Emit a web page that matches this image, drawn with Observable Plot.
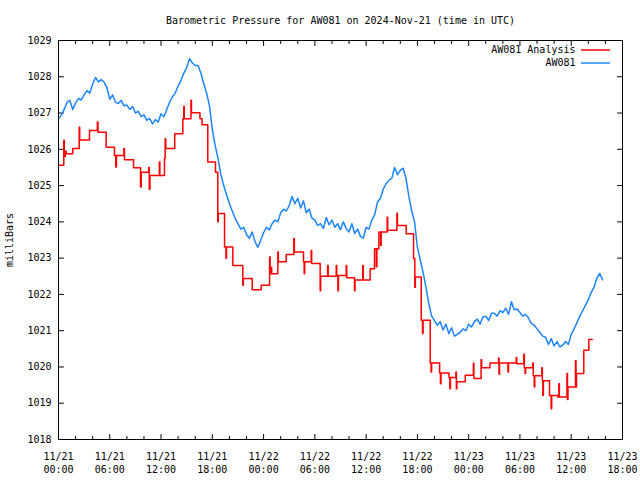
<!DOCTYPE html>
<html><head><meta charset="utf-8">
<script src="https://cdn.jsdelivr.net/npm/d3@7"></script>
<script src="https://cdn.jsdelivr.net/npm/@observablehq/plot@0.6"></script>
<style>body{margin:0;background:#fff}</style>
</head><body><div id="chart"></div>
<script>
const title = "Barometric Pressure for AW081 on 2024-Nov-21 (time in UTC)";
const yLabel = "milliBars";
const seriesNames = ["AW081 Analysis", "AW081"];
const seriesColors = ["#ff0000", "#1a85ff"];
const startUTC = Date.UTC(2024, 10, 21);
const endHours = 66;
const yTicks = [1018, 1019, 1020, 1021, 1022, 1023, 1024, 1025, 1026, 1027, 1028, 1029];
const xLabelHours = [0, 6, 12, 18, 24, 30, 36, 42, 48, 54, 60, 66];
const xMinorHours = [2,4,8,10,14,16,20,22,26,28,32,34,38,40,44,46,50,52,56,58,62,64];

// AW081 observations, one value every 20 minutes from 11/21 00:00 UTC
const awStepMinutes = 20;
const awValues = [
  1026.84, 1026.95, 1027.10,  1027.30, 1027.35, 1027.10,  1027.28, 1027.40, 1027.36,
  1027.50, 1027.62, 1027.55,  1027.80, 1027.98, 1027.86,  1027.92, 1027.85, 1027.70,
  1027.38, 1027.50, 1027.30,  1027.26, 1027.35, 1027.20,  1027.22, 1027.10, 1027.18,
  1027.00, 1027.05, 1026.90,  1026.95, 1026.80, 1026.85,  1026.70, 1026.82, 1026.75,
  1026.98, 1026.90, 1027.10,  1027.30, 1027.45, 1027.55,  1027.75, 1027.90, 1028.10,
  1028.25, 1028.50, 1028.38,  1028.31, 1028.31, 1028.10,  1027.80, 1027.55, 1027.20,
  1026.55, 1026.10, 1025.75,  1025.30, 1025.00, 1024.75,  1024.50, 1024.30, 1024.10,
  1023.95, 1023.80, 1023.85,  1023.65, 1023.55, 1023.72,  1023.45, 1023.30, 1023.50,
  1023.70, 1023.85, 1023.78,  1023.95, 1024.05, 1024.00,  1024.25, 1024.35, 1024.30,
  1024.45, 1024.70, 1024.50,  1024.65, 1024.38, 1024.58,  1024.25, 1024.35, 1024.10,
  1024.05, 1023.90, 1023.95,  1023.82, 1024.12, 1023.92,  1024.05, 1023.85, 1023.95,
  1023.78, 1024.00, 1023.82,  1023.72, 1023.95, 1023.68,  1023.80, 1023.60, 1023.55,
  1023.85, 1023.80, 1024.05,  1024.20, 1024.55, 1024.65,  1024.90, 1025.05, 1025.15,
  1025.20, 1025.50, 1025.30,  1025.42, 1025.48, 1025.20,  1024.70, 1024.30, 1024.00,
  1023.30, 1022.95, 1022.60,  1022.20, 1021.75, 1021.40,  1021.28, 1021.15, 1021.25,
  1021.02, 1021.18, 1020.92,  1021.08, 1020.85, 1020.90,  1020.95, 1021.05, 1021.00,
  1021.18, 1021.10, 1021.25,  1021.32, 1021.18, 1021.38,  1021.40, 1021.28, 1021.48,
  1021.48, 1021.40, 1021.55,  1021.50, 1021.62, 1021.45,  1021.80, 1021.58, 1021.60,
  1021.50, 1021.40, 1021.45,  1021.35, 1021.20, 1021.15,  1021.05, 1020.95, 1020.85,
  1020.82, 1020.62, 1020.78,  1020.58, 1020.70, 1020.55,  1020.60, 1020.70, 1020.62,
  1020.90, 1021.05, 1021.22,  1021.40, 1021.55, 1021.70,  1021.85, 1022.05, 1022.20,
  1022.45, 1022.58, 1022.40
];

// AW081 Analysis: change times (hours after 11/21 00:00 UTC) and held values
const analysisHours = [
  0.00, 0.62, 0.68, 0.80, 0.90, 1.67, 2.42, 2.48, 3.63, 4.55, 4.62, 5.58, 6.55, 6.70, 6.78,
  7.65, 7.72, 8.78, 9.60, 9.68, 10.55, 10.62, 10.70, 11.80, 11.86, 12.40, 12.48, 12.55,
  13.60, 14.55, 14.66, 14.72, 15.50, 15.56, 16.55, 16.80, 17.47, 18.37, 18.64, 18.70,
  19.43, 19.60, 19.66, 20.40, 21.57, 21.63, 22.67, 23.72, 24.70, 24.76, 24.90, 24.95,
  25.67, 25.73, 26.65, 27.54, 27.60, 28.67, 28.75, 28.81, 29.57, 29.63, 30.62, 30.68,
  31.50, 31.56, 32.50, 32.56, 32.70, 32.76, 33.67, 33.73, 34.64, 34.70, 35.60, 35.66,
  36.47, 36.98, 37.20, 37.26, 37.49, 37.70, 37.76, 38.46, 38.52, 39.60, 39.66, 40.69,
  41.55, 41.70, 41.76, 42.45, 42.60, 42.66, 43.50, 43.60, 43.66, 44.60, 44.70, 44.76,
  45.70, 45.80, 45.86, 46.50, 46.56, 46.62, 47.60, 48.55, 48.61, 49.45, 49.51, 50.50,
  51.50, 51.55, 51.61, 52.60, 52.66, 53.56, 53.62, 54.45, 54.51, 54.60, 54.66, 55.50,
  55.56, 55.67, 55.73, 56.56, 56.62, 56.68, 56.74, 57.46, 57.65, 57.71, 58.43, 58.55,
  58.61, 59.50, 59.56, 59.62, 60.50, 60.56, 60.62, 61.47, 62.06, 62.45
];
const analysisValues = [
  1025.56, 1026.25, 1025.80, 1025.95, 1025.88, 1026.02, 1026.61, 1026.26, 1026.52, 1026.75, 1026.47, 1026.06, 1025.83, 1025.51, 1025.83,
  1026.02, 1025.71, 1025.49, 1024.96, 1025.37, 1025.50, 1024.90, 1025.28, 1025.65, 1025.28, 1025.75, 1026.29, 1026.02,
  1026.43, 1026.84, 1027.18, 1026.84, 1027.35, 1027.01, 1026.84, 1026.68, 1025.65, 1025.37, 1024.00, 1024.23,
  1023.31, 1023.00, 1023.31, 1022.80, 1022.25, 1022.44, 1022.13, 1022.25, 1023.03, 1022.57, 1022.75, 1022.57,
  1023.17, 1022.90, 1023.10, 1023.54, 1023.17, 1022.90, 1022.57, 1022.90, 1023.21, 1022.85, 1022.10, 1022.50,
  1022.80, 1022.50, 1022.80, 1022.52, 1022.10, 1022.52, 1022.80, 1022.46, 1022.10, 1022.40, 1022.80, 1022.40,
  1022.71, 1023.26, 1022.76, 1023.26, 1023.72, 1023.35, 1023.72, 1024.13, 1023.77, 1024.24, 1023.90, 1023.67,
  1022.99, 1022.20, 1022.48, 1021.29, 1020.92, 1021.29, 1020.11, 1019.86, 1020.11, 1019.83, 1019.54, 1019.83,
  1019.71, 1019.40, 1019.71, 1019.86, 1019.40, 1019.59, 1019.77, 1020.10, 1019.68, 1020.20, 1019.98, 1020.11,
  1020.25, 1019.80, 1020.11, 1019.86, 1020.11, 1020.26, 1020.09, 1020.35, 1019.98, 1019.82, 1019.98, 1020.11,
  1019.76, 1019.45, 1019.76, 1019.98, 1019.62, 1019.21, 1019.62, 1019.21, 1018.85, 1019.21, 1019.17, 1019.54,
  1019.17, 1019.82, 1019.10, 1019.45, 1020.17, 1019.45, 1019.82, 1020.46, 1020.76, 1020.76
];

const toDate = h => new Date(startUTC + h * 3600e3);
const aw = awValues.map((v, i) => ({t: toDate(i * awStepMinutes / 60), v}));
const an = analysisHours.map((h, i) => ({t: toDate(h), v: analysisValues[i]}));
const tickLine = {draw(ctx, l) { ctx.moveTo(0, 0); ctx.lineTo(0, -l); }};
const font = "'DejaVu Sans Mono', monospace";
const tickOpts = {shape: tickLine, anchor: "start", stroke: "black", strokeWidth: 1};
const majorLen = 5, minorLen = 3;

const chart = Plot.plot({
  width: 640, height: 480,
  marginTop: 40, marginLeft: 58, marginRight: 18, marginBottom: 41,
  style: {fontFamily: font, fontSize: "10px", color: "black", background: "white"},
  x: {type: "utc", domain: [toDate(0), toDate(endHours)]},
  y: {domain: [1018, 1029]},
  marks: [
    Plot.axisY(yTicks, {anchor: "left", tickSize: 0, tickPadding: 7, tickFormat: d => String(d),
      label: yLabel, labelAnchor: "center", labelOffset: 53, labelArrow: "none"}),
    Plot.axisX(xLabelHours.map(toDate), {anchor: "bottom", tickSize: 0, tickPadding: 11,
      tickFormat: d3.utcFormat("%m/%d\n%H:%M"), lineHeight: 1.3, label: null}),
    Plot.vector(yTicks, {y: d => d, frameAnchor: "left", rotate: 90, length: majorLen, ...tickOpts}),
    Plot.vector(yTicks, {y: d => d, frameAnchor: "right", rotate: 270, length: majorLen, ...tickOpts}),
    Plot.vector(xLabelHours.map(toDate), {x: d => d, frameAnchor: "bottom", rotate: 0, length: majorLen, ...tickOpts}),
    Plot.vector(xLabelHours.map(toDate), {x: d => d, frameAnchor: "top", rotate: 180, length: majorLen, ...tickOpts}),
    Plot.vector(xMinorHours.map(toDate), {x: d => d, frameAnchor: "bottom", rotate: 0, length: minorLen, ...tickOpts}),
    Plot.vector(xMinorHours.map(toDate), {x: d => d, frameAnchor: "top", rotate: 180, length: minorLen, ...tickOpts}),
    Plot.line(aw, {x: "t", y: "v", stroke: seriesColors[1], strokeWidth: 1.5}),
    Plot.line(an, {x: "t", y: "v", stroke: seriesColors[0], strokeWidth: 1.5, curve: "step-after"}),
    Plot.frame({stroke: "black"}),
    Plot.text([title], {frameAnchor: "top", dy: -20, lineAnchor: "middle"}),
    Plot.text([seriesNames[0]], {frameAnchor: "top-right", dx: -47, dy: 9.5, textAnchor: "end", lineAnchor: "middle"}),
    Plot.text([seriesNames[1]], {frameAnchor: "top-right", dx: -47, dy: 22.5, textAnchor: "end", lineAnchor: "middle"}),
    Plot.vector([0], {frameAnchor: "top-right", dx: -13, dy: 9.5, rotate: 270, length: 28,
      shape: tickLine, anchor: "start", stroke: seriesColors[0], strokeWidth: 1.5}),
    Plot.vector([0], {frameAnchor: "top-right", dx: -13, dy: 22.5, rotate: 270, length: 28,
      shape: tickLine, anchor: "start", stroke: seriesColors[1], strokeWidth: 1.5})
  ]
});
document.getElementById("chart").appendChild(chart);
</script>
</body></html>
